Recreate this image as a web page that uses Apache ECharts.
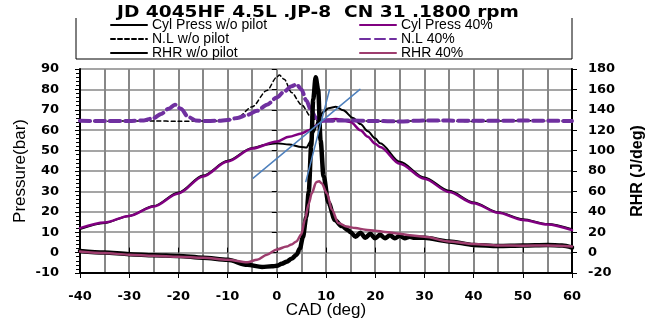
<!DOCTYPE html>
<html>
<head>
<meta charset="utf-8">
<script src="https://cdn.jsdelivr.net/npm/echarts@6/dist/echarts.min.js"></script>
<style>
  html, body { margin: 0; padding: 0; background: #ffffff; }
  #chart { width: 665px; height: 321px; }
</style>
</head>
<body>
<div id="chart"></div>
<script>
// Engine test: JD 4045HF 4.5L, JP-8 (CN 31), 1800 rpm
const titleText = 'JD 4045HF 4.5L .JP-8  CN 31 .1800 rpm';

// Axis ranges
const cadMin = -40, cadMax = 60, cadStep = 10;
const pressMin = -10, pressMax = 90, pressStep = 10;
const rhrMin = -20, rhrMax = 180, rhrStep = 20;

// Cylinder pressure, no pilot (bar)
const cadPressA = [-40,-35,-30,-25,-20,-15,-10,-5,-2,0,2.5,5,6,7,7.5,8.5,9.5,10.5,12,13.5,15.5,17,18.5,20,21,25,30,35,40,45,50,55,60];
const pressA    = [11.5,14.5,18,22.8,29.5,37.8,45,51.3,53,53.6,53,51.8,51.5,55,59,65.5,69,70.8,71.5,69.8,66,63,59.5,56,53.6,44.5,36.8,30.3,24.6,19.8,16.4,14,11.5];

// Cylinder pressure, 40% pilot (bar)
const cadPressB = [-40,-35,-30,-25,-20,-15,-10,-5,0,2.5,5,6.5,8,9,10.5,12,13,15,17,18.5,20,21,25,30,35,40,45,50,55,60];
const pressB    = [12,14.8,18,22.6,29,37.3,44.6,51,54.5,56.8,58.4,60,62.3,64,65.3,65.5,65.2,64,60,56.8,53.3,51.8,43.5,36.2,29.7,24.2,19.5,16,13.8,11];

// Needle lift trace, no pilot
const cadNlA = [-40,-35,-30,-25,-20,-15,-12,-10,-8,-5,-2,0,0.5,1.5,3,5,7,8,10,15,20,30,40,50,60];
const nlA    = [64.5,64.4,64.5,64.5,64.4,64.5,64.5,64.8,66.2,71.5,79.5,86,87,85,78.5,72.5,66.5,64.8,64.5,64.6,64.4,64.5,64.3,64.6,64.4];

// Needle lift trace, 40% pilot
const cadNlB = [-40,-35,-30,-27,-25,-23.5,-22,-20.7,-19.5,-18,-16.5,-15,-12,-10,-8,-6,-4,-2,0,1.5,3,4,5,6,7,8,9,10,15,20,25,30,40,50,60];
const nlB    = [64.6,64.5,64.5,64.8,66,68,70.5,72.5,70.5,66.5,64.8,64.5,64.6,65,66,67.5,69.5,72.5,76,79,81.5,82.5,80,74.5,69.5,66,64.8,64.6,64.8,64.5,64.3,64.8,64.6,64.7,64.5];

// Rate of heat release, no pilot (J/deg)
const cadRhrA = [-40,-35,-30,-25,-20,-15,-10,-6,-3,-1,0,1,2,3,4,4.7,5.3,6,6.5,7,7.4,7.9,8.4,8.9,9.5,10.5,11.8,13.2,14.5,15,16,17,18,19,20,21,22,23,24,25,26,27,28,30,35,40,45,50,55,58,60];
const rhrA    = [1.5,0,-1.5,-2.5,-3.3,-5,-7,-12,-14,-13.5,-13,-11,-9,-6,-2,4,15,35,60,105,150,172,160,110,75,49,32,26,22,20,15.5,19.5,14.5,18.5,14,17.5,14,17,14,16.5,14,15.5,14.5,14.5,11,7.5,6.5,7,7.5,7,5];

// Rate of heat release, 40% pilot (J/deg)
const cadRhrB = [-40,-35,-30,-25,-20,-15,-10,-6,-4,-2,0,2,3,4,5,5.7,6.5,7.1,8,8.6,9.1,10.2,11.2,12.5,14.2,16,18,20,22,25,27,30,35,40,45,50,55,60];
const rhrB    = [1,-0.5,-2,-3,-4,-5,-7,-9.5,-7,-2,3,6,8,11,18,32,48,58,69,70,68,58,42,29,25.5,24,22.5,21.5,20.3,18.5,17,15.5,11,8.5,7,6.8,7,6];

// Tangent construction lines (bar axis)
const tangentACad = [-4.8, 16.9], tangentAVal = [36.5, 80];
const tangentBCad = [5.9, 10.7],  tangentBVal = [34.8, 79.7];

const names = ['Cyl Press w/o pilot', 'N.L w/o pilot', 'RHR w/o pilot',
               'Cyl Press 40%', 'N.L 40%', 'RHR 40%'];

const zip = (xs, ys) => xs.map((x, i) => [x, ys[i]]);

const gridColor = '#878787';
const tickFont = { fontFamily: 'DejaVu Sans', fontWeight: 'bold', fontSize: 13, color: '#000' };

function lineSeries(name, xs, ys, yIdx, color, width, dash, z, smooth) {
  return {
    name: name,
    type: 'line',
    xAxisIndex: 0,
    yAxisIndex: yIdx,
    data: zip(xs, ys),
    symbol: 'none',
    symbolSize: 0,
    showSymbol: false,
    smooth: smooth,
    smoothMonotone: 'x',
    z: z,
    lineStyle: { color: color, width: width, type: dash, cap: 'round', join: 'round' },
    itemStyle: { color: color }
  };
}

const legendCommon = {
  orient: 'vertical', top: 18, padding: 0,
  itemWidth: 36, itemHeight: 10, itemGap: 0,
  itemStyle: { opacity: 0 },
  textStyle: { fontFamily: 'Liberation Sans', fontSize: 14, lineHeight: 13.7, color: '#000' }
};

const chart = echarts.init(document.getElementById('chart'), null, { renderer: 'canvas' });

chart.setOption({
  animation: false,
  backgroundColor: '#ffffff',
  textStyle: { fontFamily: 'Liberation Sans' },
  grid: { left: 80, right: 93, top: 69, bottom: 48, containLabel: false, outerBoundsMode: 'none' },
  legend: [
    Object.assign({ data: names.slice(0, 3), left: 110 }, legendCommon),
    Object.assign({ data: names.slice(3), left: 359 }, legendCommon)
  ],
  graphic: [
    {
      type: 'polyline', z: 100, silent: true,
      shape: { points: [[76, 18], [76, 59], [572, 59], [572, 18]] },
      style: { stroke: '#000', lineWidth: 1, fill: null }
    },
    {
      type: 'text', z: 100, silent: true, x: 318, y: 12.5, scaleX: 1.16,
      style: {
        text: titleText, fill: '#000', align: 'center', verticalAlign: 'middle',
        font: 'bold 16px "DejaVu Sans"'
      }
    }
  ],
  xAxis: [
    {
      type: 'value', min: cadMin, max: cadMax, interval: cadStep, position: 'bottom',
      name: 'CAD (deg)', nameLocation: 'middle', nameGap: 29, nameMoveOverlap: false,
      nameTextStyle: { fontFamily: 'Liberation Sans', fontSize: 17, color: '#000' },
      axisLine: { onZero: false, lineStyle: { color: '#000', width: 2 } },
      axisTick: { show: true, inside: false, length: 5, lineStyle: { color: '#000', width: 1 } },
      axisLabel: Object.assign({ margin: 17 }, tickFont),
      splitLine: { show: true, lineStyle: { color: gridColor, width: 2 } },
      minorTick: { show: false, splitNumber: 2 },
      minorSplitLine: { show: true, lineStyle: { color: gridColor, width: 2 } }
    },
    {
      type: 'value', min: cadMin, max: cadMax, interval: cadStep, position: 'bottom',
      axisLine: { show: false },
      axisTick: { show: true, inside: true, length: 5, lineStyle: { color: '#000', width: 1 } },
      axisLabel: { show: false }, splitLine: { show: false }
    }
  ],
  yAxis: [
    {
      type: 'value', min: pressMin, max: pressMax, interval: pressStep, position: 'left',
      name: 'Pressure(bar)', nameLocation: 'middle', nameGap: 51, nameMoveOverlap: false,
      nameTextStyle: { fontFamily: 'Liberation Sans', fontSize: 17, color: '#000' },
      axisLine: { show: true, onZero: false, lineStyle: { color: '#000', width: 2 } },
      axisTick: { show: true, length: 5, lineStyle: { color: '#000', width: 1 } },
      minorTick: { show: true, splitNumber: 5, length: 4, lineStyle: { color: '#000', width: 1 } },
      axisLabel: Object.assign({ margin: 21 }, tickFont),
      splitLine: { show: true, lineStyle: { color: gridColor, width: 1.5 } }
    },
    {
      type: 'value', min: rhrMin, max: rhrMax, interval: rhrStep, position: 'right',
      name: 'RHR (J/deg)', nameLocation: 'middle', nameGap: 58, nameMoveOverlap: false,
      nameTextStyle: { fontFamily: 'Liberation Sans', fontWeight: 'bold', fontSize: 16, color: '#000' },
      axisLine: { show: true, onZero: false, lineStyle: { color: '#000', width: 2 } },
      axisTick: { show: true, length: 5, lineStyle: { color: '#000', width: 1 } },
      axisLabel: Object.assign({ margin: 16 }, tickFont),
      splitLine: { show: false }
    },
    {
      type: 'value', min: rhrMin, max: rhrMax, interval: rhrStep, position: 'right',
      axisLine: { show: false },
      axisTick: { show: true, inside: true, length: 5, lineStyle: { color: '#000', width: 1 } },
      axisLabel: { show: false }, splitLine: { show: false }
    }
  ],
  series: [
    lineSeries(names[0], cadPressA, pressA, 0, '#000000', 2, 'solid', 3, 0.3),
    lineSeries(names[3], cadPressB, pressB, 0, '#800080', 2.5, 'solid', 4, 0.3),
    lineSeries(names[1], cadNlA, nlA, 0, '#000000', 1.5, [4, 3], 5, 0.3),
    lineSeries(names[4], cadNlB, nlB, 0, '#7030A0', 4, [10, 5], 6, 0.3),
    lineSeries(names[2], cadRhrA, rhrA, 1, '#000000', 4.5, 'solid', 7, 0.3),
    lineSeries(names[5], cadRhrB, rhrB, 1, '#9E3D6E', 2.5, 'solid', 8, 0.3),
    lineSeries('tangent-a', tangentACad, tangentAVal, 0, '#4F81BD', 1.5, 'solid', 9, false),
    lineSeries('tangent-b', tangentBCad, tangentBVal, 0, '#4F81BD', 1.5, 'solid', 9, false)
  ]
});
</script>
</body>
</html>
